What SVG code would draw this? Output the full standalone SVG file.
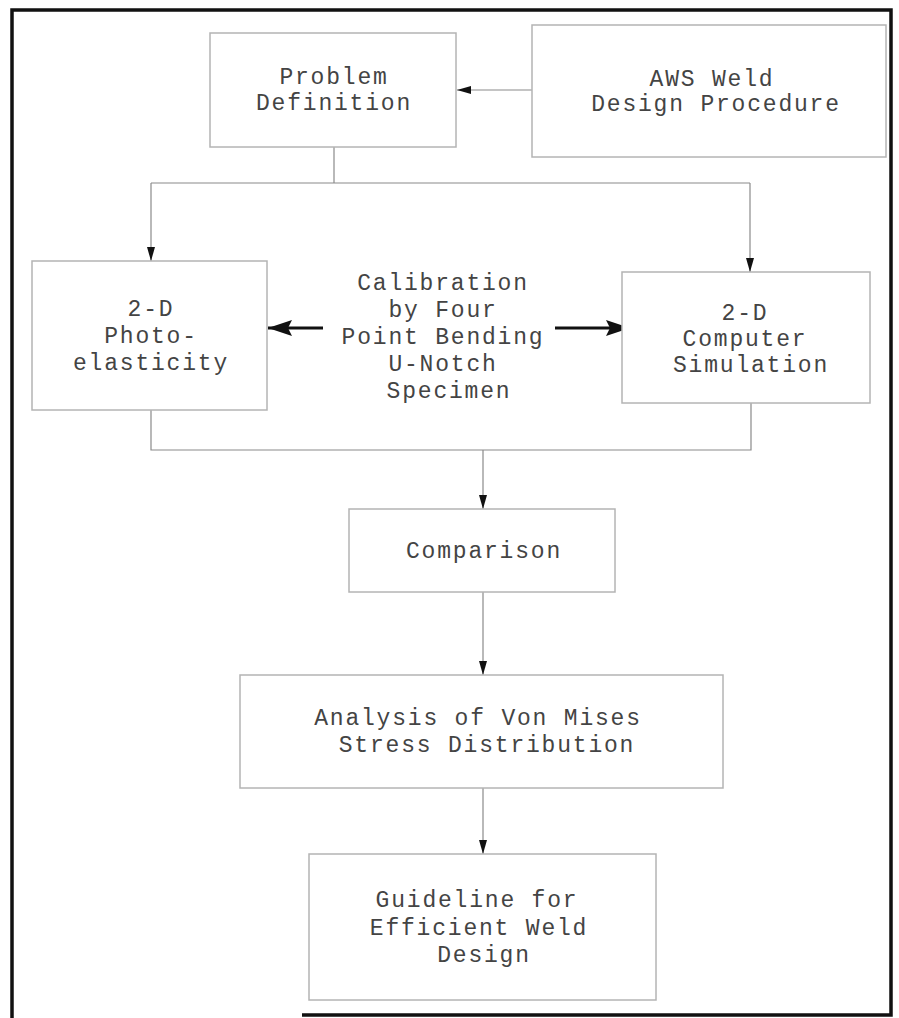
<svg xmlns="http://www.w3.org/2000/svg" width="899" height="1018" viewBox="0 0 899 1018">
<style>
.box{fill:#fff;stroke:#b4b4b4;stroke-width:1.5}
.t{font-family:"Liberation Mono","Courier New",monospace;font-size:23px;letter-spacing:1.8px;fill:#444;text-anchor:middle}
.c{fill:none;stroke:#8a8a8a;stroke-width:1.2}
.thick{fill:none;stroke:#111;stroke-width:3}
.frame{fill:none;stroke:#111;stroke-width:3.5}
</style>
<defs>
<marker id="ah" viewBox="0 0 14 8" refX="14" refY="4" markerUnits="userSpaceOnUse" markerWidth="14" markerHeight="8" orient="auto">
<path d="M0,0 L14,4 L0,8 z" fill="#111"/>
</marker>
<marker id="ahb" viewBox="0 0 24 16" refX="24" refY="8" markerUnits="userSpaceOnUse" markerWidth="24" markerHeight="16" orient="auto">
<path d="M0,0 L24,8 L0,16 L4,8 z" fill="#111"/>
</marker>
</defs>
<rect width="899" height="1018" fill="#fff"/>
<g id="frame">
<path class="frame" d="M12,1018 V10 H891 V1015 H302"/>
</g>
<g id="connectors">
<path class="c" d="M532,90 H457" marker-end="url(#ah)"/>
<path class="c" d="M334,147 V183"/>
<path class="c" d="M151,183 H750"/>
<path class="c" d="M151,183 V261" marker-end="url(#ah)"/>
<path class="c" d="M750,183 V272" marker-end="url(#ah)"/>
<path class="c" d="M151,410 V450 H751 V403"/>
<path class="c" d="M483,450 V509" marker-end="url(#ah)"/>
<path class="c" d="M483,592 V675" marker-end="url(#ah)"/>
<path class="c" d="M483,788 V854" marker-end="url(#ah)"/>
<path class="thick" d="M323,328 H268" marker-end="url(#ahb)"/>
<path class="thick" d="M555,328 H630" marker-end="url(#ahb)"/>
</g>
<g id="problem">
<rect class="box" x="210" y="33" width="246" height="114"/>
<text class="t" x="334" y="84">Problem</text>
<text class="t" x="334" y="110">Definition</text>
</g>
<g id="aws">
<rect class="box" x="532" y="25" width="354" height="132"/>
<text class="t" x="712" y="86">AWS Weld</text>
<text class="t" x="716" y="111">Design Procedure</text>
</g>
<g id="photo">
<rect class="box" x="32" y="261" width="235" height="149"/>
<text class="t" x="151" y="316">2-D</text>
<text class="t" x="151" y="343">Photo-</text>
<text class="t" x="151" y="370">elasticity</text>
</g>
<g id="calibration">
<text class="t" x="443" y="290">Calibration</text>
<text class="t" x="443" y="317">by Four</text>
<text class="t" x="443" y="344">Point Bending</text>
<text class="t" x="443" y="371">U-Notch</text>
<text class="t" x="449" y="398">Specimen</text>
</g>
<g id="computer">
<rect class="box" x="622" y="272" width="248" height="131"/>
<text class="t" x="745" y="320">2-D</text>
<text class="t" x="745" y="346">Computer</text>
<text class="t" x="751" y="372">Simulation</text>
</g>
<g id="comparison">
<rect class="box" x="349" y="509" width="266" height="83"/>
<text class="t" x="484" y="558">Comparison</text>
</g>
<g id="analysis">
<rect class="box" x="240" y="675" width="483" height="113"/>
<text class="t" x="478" y="725">Analysis of Von Mises</text>
<text class="t" x="487" y="752">Stress Distribution</text>
</g>
<g id="guideline">
<rect class="box" x="309" y="854" width="347" height="146"/>
<text class="t" x="477" y="907">Guideline for</text>
<text class="t" x="479" y="935">Efficient Weld</text>
<text class="t" x="484" y="962">Design</text>
</g>
</svg>
